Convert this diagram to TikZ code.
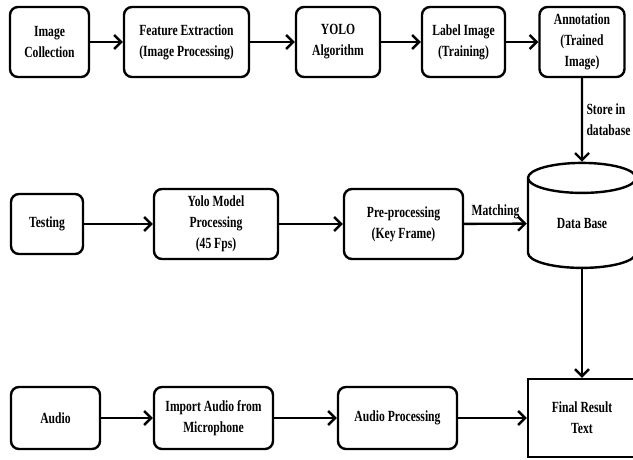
\documentclass[tikz,border=0pt]{standalone}
\usepackage{fontspec}
\setmainfont{Liberation Serif}[FakeStretch=0.75]
\usepackage{tikz}
\usetikzlibrary{shapes.geometric}
\usetikzlibrary{arrows.meta}
\tikzset{
    stage/.style={draw, line width=2.4pt, rounded corners=8pt, align=center, inner sep=0pt, font=\bfseries\fontsize{15.5}{21}\selectfont},
    note/.style={align=left, font=\bfseries\fontsize{15.5}{21}\selectfont},
    flow/.style={-{Straight Barb[length=7pt, width=14pt]}, line width=2.4pt}
}
\begin{document}
\begin{tikzpicture}[x=1pt, y=-1pt]
\useasboundingbox (0,0) rectangle (633,459);
\foreach \x/\y/\p/\w/\h/\labeltext in {49.5/42/imgcol/79/70/{Image\\Collection}, 186.5/42/featext/125/70/{Feature Extraction\\(Image Processing)}, 338/42/yolo/84/70/{YOLO\\Algorithm}, 463.5/42/label/83/70/{Label Image\\(Training)}, 582/42/annot/85/70/{Annotation\\(Trained\\Image)}, 47/224/testing/72/60/{Testing}, 216/224/yolomodel/124/70/{Yolo Model\\Processing\\(45 Fps)}, 403.5/224/preproc/119/70/{Pre-processing\\(Key Frame)}, 55.5/418/audio/89/62/{Audio}, 213.5/418/import/119/62/{Import Audio from\\Microphone}, 397.5/418/audioproc/119/62/{Audio Processing}}{
    \node[stage, minimum width=\w pt, minimum height=\h pt] (\p) at (\x,\y) {\labeltext};
}
\node[stage, sharp corners, cylinder, shape border rotate=90, aspect=0.6, minimum width=108pt, minimum height=105pt] (db) at (582,223.5) {Data Base};
\node[stage, sharp corners, minimum width=108pt, minimum height=78pt] (final) at (582,418) {Final Result\\Text};
\foreach \a/\b in {imgcol/featext, featext/yolo, yolo/label, label/annot, testing/yolomodel, yolomodel/preproc, audio/import, import/audioproc, audioproc/final}
    \draw[flow] (\a) -- (\b);
\draw[flow] (annot) -- node[note, right] {Store in\\database} (db);
\draw[flow] (preproc) -- node[note, above] {Matching} (db);
\draw[flow] (db) -- (final);
\end{tikzpicture}
\end{document}
